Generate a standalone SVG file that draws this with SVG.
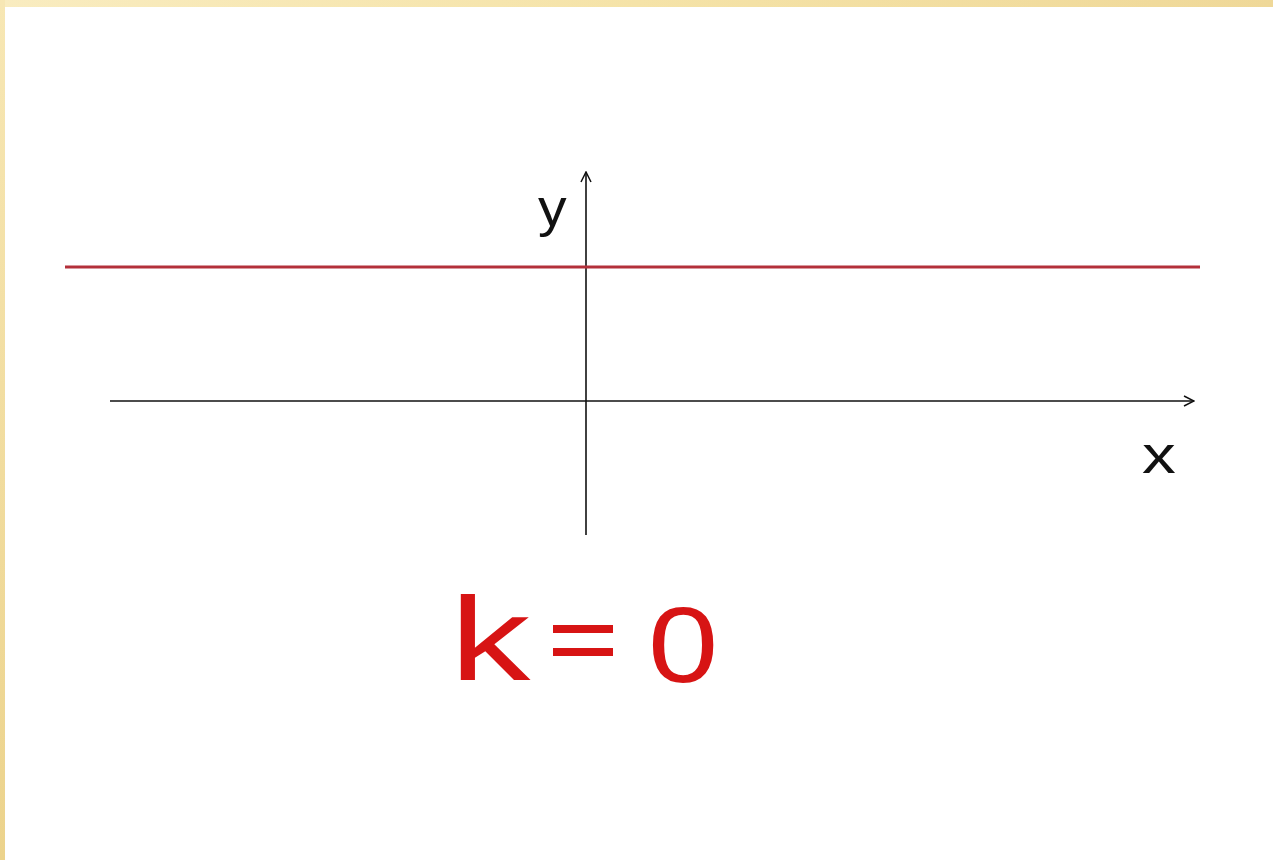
<svg xmlns="http://www.w3.org/2000/svg" width="1273" height="860" viewBox="0 0 1273 860">
<defs>
<linearGradient id="bt" x1="0" y1="0" x2="1" y2="0">
<stop offset="0" stop-color="#f9ecc0"/><stop offset="0.5" stop-color="#f5e3a8"/><stop offset="1" stop-color="#efd898"/>
</linearGradient>
<linearGradient id="bl" x1="0" y1="0" x2="0" y2="1">
<stop offset="0" stop-color="#f7e7b4"/><stop offset="1" stop-color="#ecd38c"/>
</linearGradient>
<marker id="arr" viewBox="0 0 12 12" refX="11" refY="6" markerWidth="12" markerHeight="12" markerUnits="userSpaceOnUse" orient="auto">
<path d="M1,1 L11,6 L1,11" fill="none" stroke="#111" stroke-width="1.5"/>
</marker>
<style>
.ax{stroke:#111;stroke-width:1.6;fill:none}
.lbl{font-family:"Liberation Sans",Arial,sans-serif;font-size:52px;fill:#111}
.k{font-family:"Liberation Sans",Arial,sans-serif;fill:#d71414}
</style>
</defs>
<rect width="1273" height="860" fill="#ffffff"/>
<rect x="0" y="0" width="1273" height="7" fill="url(#bt)"/>
<rect x="0" y="0" width="5" height="860" fill="url(#bl)"/>
<g id="connectors">
<line id="x-axis" class="ax" x1="110" y1="401" x2="1194" y2="401" marker-end="url(#arr)"/>
<line id="y-axis" class="ax" x1="586" y1="535" x2="586" y2="172" marker-end="url(#arr)"/>
<line id="line-k0" x1="65" y1="267" x2="1200" y2="267" stroke="#b3303a" stroke-width="3"/>
</g>
<g id="label-y"><text class="lbl" transform="translate(538,226) scale(1.1,1)" x="0" y="0">y</text></g>
<g id="label-x"><text class="lbl" transform="translate(1142,473) scale(1.3,1)" x="0" y="0">x</text></g>
<g id="label-k">
<text class="k" font-size="119" transform="translate(450,680) scale(1.35,1)" x="0" y="0">k</text>
<rect x="553" y="625" width="60" height="8" fill="#d71414"/>
<rect x="553" y="648" width="60" height="8" fill="#d71414"/>
<text class="k" font-size="107" transform="translate(648,682) scale(1.18,1)" x="0" y="0">0</text>
</g>
</svg>
